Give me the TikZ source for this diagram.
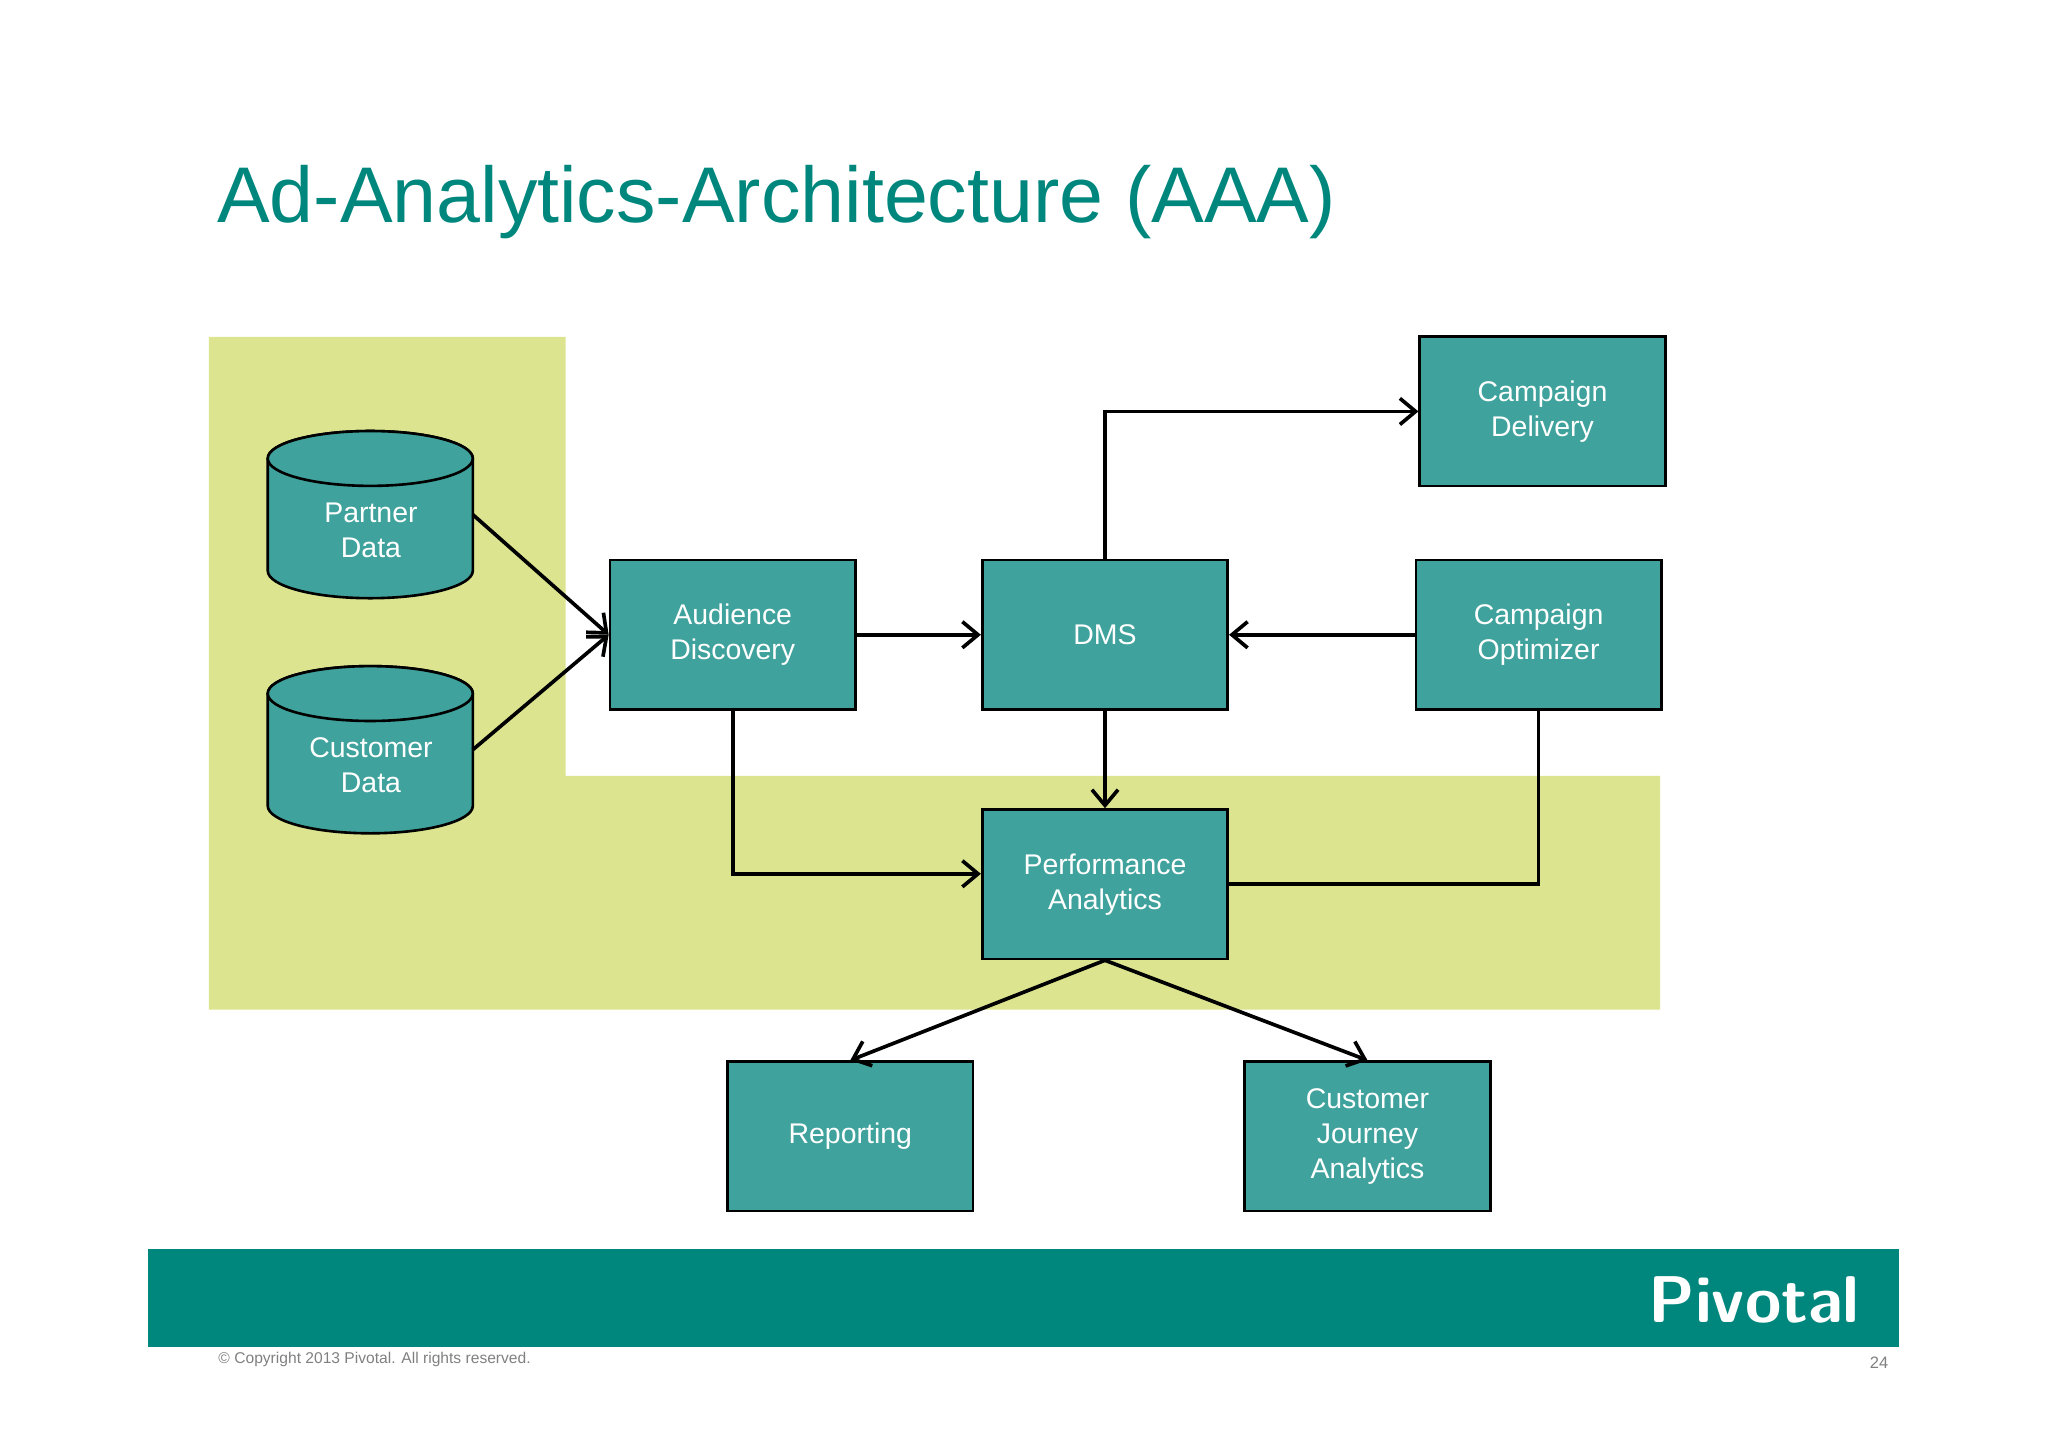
\documentclass[tikz,border=0pt]{standalone}
\usepackage{fontspec}
\setmainfont{Liberation Sans}
\usetikzlibrary{arrows.meta}
\definecolor{teal1}{HTML}{3FA29C}
\definecolor{teal2}{HTML}{00877D}
\definecolor{lime}{HTML}{DCE48F}
\begin{document}
\begin{tikzpicture}[x=0.25mm,y=-0.25mm,
  box/.style={draw=black,line width=0.5mm,fill=teal1,text=white,minimum width=47mm,minimum height=28.6mm,font=\fontsize{15.5}{19}\selectfont,align=center,inner sep=0pt},
  lbl/.style={text=white,font=\fontsize{15.5}{19}\selectfont,align=center},
  arr/.style={line width=0.7mm,-{Straight Barb[length=3mm,width=5mm,line width=0.7mm]}},
  ln/.style={line width=0.7mm}]
\useasboundingbox (0,0) rectangle (1568,1108);
\fill[lime] (160,258)--(433,258)--(433,594)--(1271,594)--(1271,773)--(160,773)--cycle;
% cylinders
\foreach \yt in {330,510}{
  \path[draw=black,line width=0.5mm,fill=teal1] (205,\yt+21) -- (205,\yt+107) arc[start angle=180,end angle=0,x radius=78.5,y radius=21] -- (362,\yt+21) arc[start angle=0,end angle=-180,x radius=78.5,y radius=21] -- cycle;
  \draw[line width=0.5mm,fill=teal1] (283.5,\yt+21) ellipse[x radius=78.5,y radius=21];
}
\node[lbl] (pd) at (284,406) {Partner\\Data};
\node[lbl] (cd) at (284,586) {Customer\\Data};
\coordinate (pde) at (362,394);
\coordinate (cde) at (362,574);
\node[box] (ad) at (561,486) {Audience\\Discovery};
\node[box] (dms) at (846,486) {DMS};
\node[box] (co) at (1178,486) {Campaign\\Optimizer};
\node[box] (cdl) at (1181,315) {Campaign\\Delivery};
\node[box] (pa) at (846,677) {Performance\\Analytics};
\node[box] (rep) at (651,870) {Reporting};
\node[box] (cja) at (1047,870) {Customer\\Journey\\Analytics};
\draw[arr] (pde) -- (ad.west);
\draw[arr] (cde) -- (ad.west);
\draw[arr] (ad) -- (dms);
\draw[arr] (co) -- (dms);
\draw[arr] (dms.north) |- (cdl.west);
\draw[arr] (dms) -- (pa);
\draw[arr] (ad.south) |- ([yshift=2mm]pa.west);
\draw[ln] (pa.east) -| (co.south);
\draw[arr] (pa.south) -- (rep.north);
\draw[arr] (pa.south) -- (cja.north);
% title and footer
\node[anchor=base west,text=teal2,font=\fontsize{43}{50}\selectfont,inner sep=0pt] (title) at (166,170) {Ad-Analytics-Architecture (AAA)};
\fill[teal2] (113,956) rectangle (1454,1031);
\node[text=white,font=\fontsize{36}{40}\selectfont\sffamily\bfseries,inner sep=0pt] (logo) at (1343,995) {Pivotal};
\node[anchor=west,text=gray,font=\fontsize{8.5}{10}\selectfont,inner sep=0pt] (copy) at (167,1041) {© Copyright 2013 Pivotal. All rights reserved.};
\node[anchor=east,text=gray,font=\fontsize{9}{10}\selectfont,inner sep=0pt] (pg) at (1446,1043) {24};
\end{tikzpicture}
\end{document}
